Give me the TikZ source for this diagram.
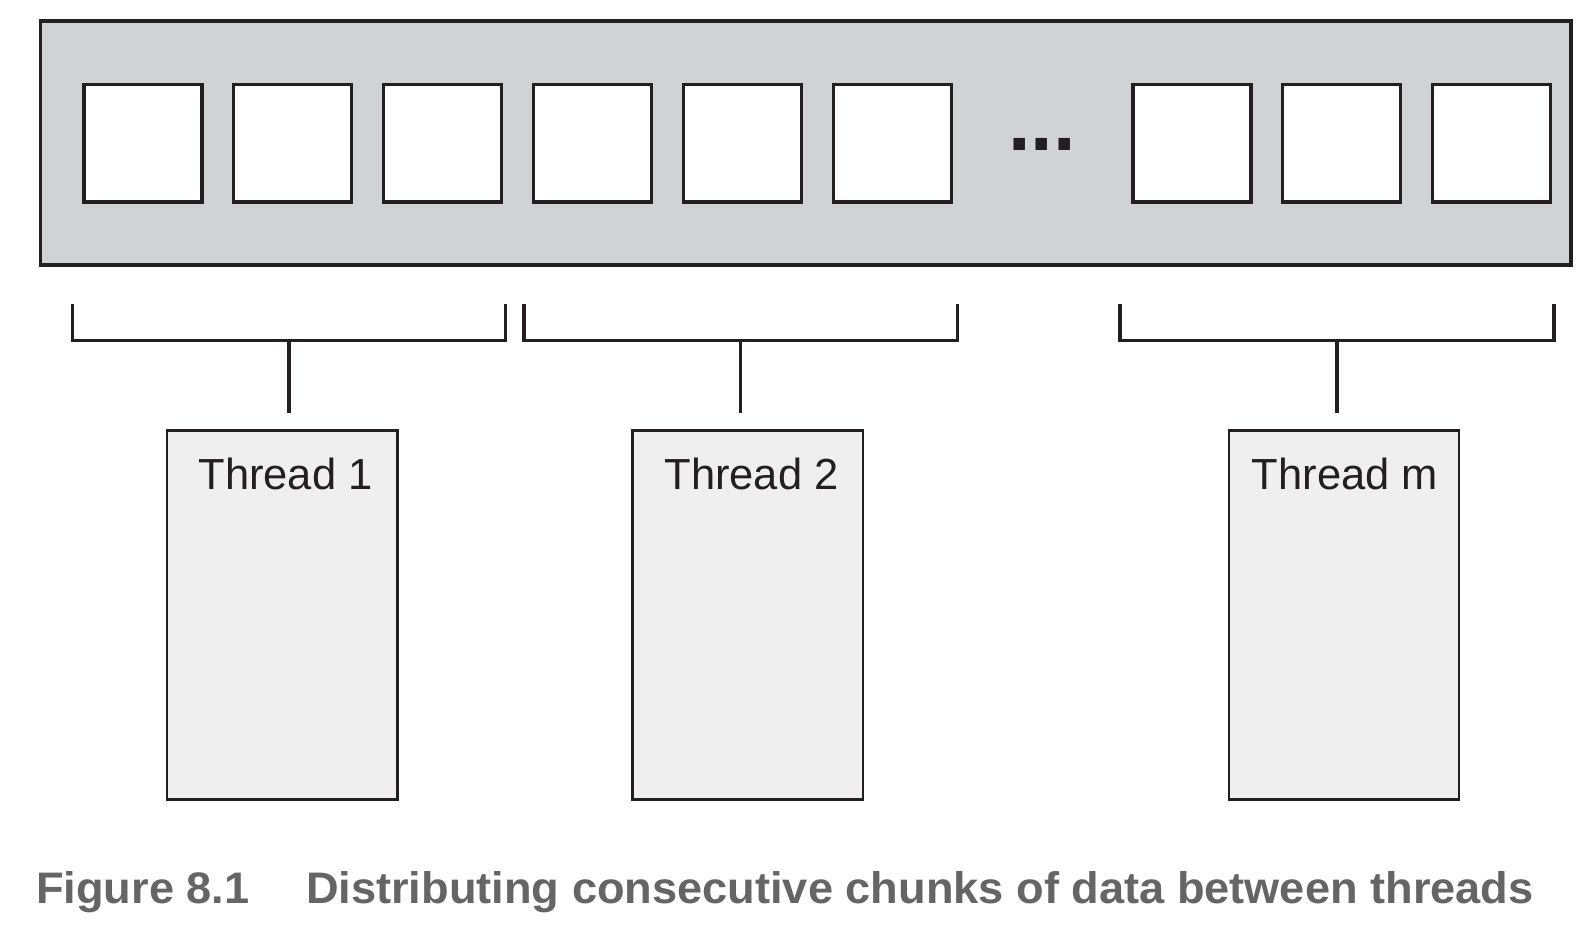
\documentclass[tikz,border=0pt]{standalone}
\usepackage{fontspec}
\setmainfont{Liberation Sans}
\usepackage{graphicx}
\definecolor{ink}{HTML}{231F20}
\definecolor{outerfill}{HTML}{D1D2D4}
\definecolor{threadfill}{HTML}{EFEFEF}
\definecolor{capgray}{HTML}{656565}
\tikzset{
  outerbox/.style={draw=ink, fill=outerfill, line width=3.3pt},
  cell/.style={draw=ink, fill=white, line width=3.2pt, minimum width=118pt, minimum height=117.5pt, inner sep=0pt, outer sep=0pt},
  bracketline/.style={draw=ink, line width=3.2pt, line join=miter},
  threadbox/.style={draw=ink, fill=threadfill, line width=2.3pt, minimum width=230.5pt, minimum height=369pt, inner sep=0pt, outer sep=0pt},
  tlabel/.style={anchor=base, inner sep=0pt, text=ink, font=\fontsize{43.5pt}{50pt}\selectfont},
  dotstext/.style={anchor=base, inner sep=0pt, text=ink, font=\fontsize{81pt}{90pt}\selectfont\bfseries},
}
\begin{document}
\begin{tikzpicture}[x=1pt,y=-1pt]
\useasboundingbox (0,0) rectangle (1595,931);
% outer array
\draw[outerbox] (40.4,21) rectangle (1571,265);
% cells
\foreach \i in {0,...,5,7,8,9}
  \node[cell] (c\i) at ({143+149.86*\i},143.25) {};
\node[dotstext] (dots) at (1042.2,150) {...};
% brackets
\coordinate (b1a) at (72.3,304);
\coordinate (b1b) at (505.5,304);
\coordinate (b1m) at (288.9,340.5);
\coordinate (s1) at (288.9,412.7);
\coordinate (b2a) at (523.9,304);
\coordinate (b2b) at (957.2,304);
\coordinate (b2m) at (740.5,340.5);
\coordinate (s2) at (740.5,412.7);
\coordinate (b3a) at (1120,304);
\coordinate (b3b) at (1554,304);
\coordinate (b3m) at (1337,340.5);
\coordinate (s3) at (1337,412.7);
\draw[bracketline] (b1a) |- (b1m) -| (b1b);
\draw[bracketline] (b2a) |- (b2m) -| (b2b);
\draw[bracketline] (b3a) |- (b3m) -| (b3b);
\draw[bracketline] (b1m) -- (s1);
\draw[bracketline] (b2m) -- (s2);
\draw[bracketline] (b3m) -- (s3);
% threads
\node[threadbox] (t1) at (282.25,615) {};
\node[threadbox] (t2) at (747.75,615) {};
\node[threadbox] (t3) at (1344,615) {};
\node[tlabel] (l1) at (285.5,489.5) {Thread 1};
\node[tlabel] (l2) at (751.5,489.5) {Thread 2};
\node[tlabel] (l3) at (1345,489.5) {Thread m};
% caption
\node[anchor=base west, inner sep=0pt, text=capgray] (cap) at (36,903)
  {\resizebox{1497pt}{32pt}{\bfseries Figure 8.1\hspace{1.25em}Distributing consecutive chunks of data between threads}};
\end{tikzpicture}
\end{document}
